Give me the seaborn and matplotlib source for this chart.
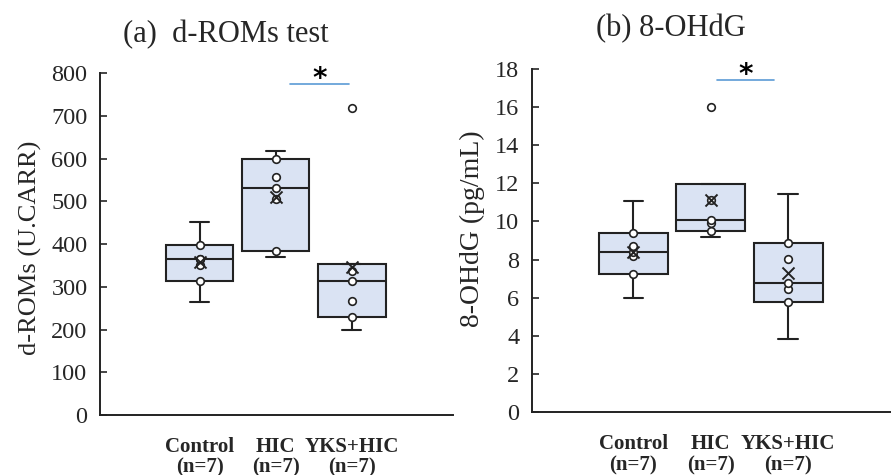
import numpy as np
import pandas as pd
import seaborn as sns
import matplotlib
matplotlib.use("Agg")
import matplotlib.pyplot as plt

# groups and raw values (n=7 each)
groups = ["Control\n(n=7)", "HIC\n(n=7)", "YKS+HIC\n(n=7)"]

droms_control = [264, 314, 352, 365, 366, 398, 451]
droms_hic = [370, 384, 505, 532, 557, 600, 617]
droms_yks = [200, 230, 266, 314, 337, 353, 717]

ohdg_control = [5.96, 7.22, 8.2, 8.41, 8.72, 9.37, 11.07]
ohdg_hic = [9.17, 9.5, 9.93, 10.07, 11.1, 11.95, 16.0]
ohdg_yks = [3.81, 5.77, 6.45, 6.78, 8.03, 8.85, 11.45]

# significance bars (HIC vs YKS+HIC)
sig_a = {"x": (1.19, 1.97), "y": 774, "star_y": 767}
sig_b = {"x": (1.08, 1.82), "y": 17.4, "star_y": 17.27}

box_fill = "#DAE3F3"
edge = "#222222"
sig_color = "#5B9BD5"

sns.set_style("ticks")
plt.rcParams["font.family"] = ["Liberation Serif", "DejaVu Serif"]


def excel_stats(vals):
    # Excel box & whisker uses exclusive quartiles, i.e. (n+1)p positions
    v = np.sort(np.asarray(vals, dtype=float))
    q1, med, q3 = np.percentile(v, [25, 50, 75], method="weibull")
    iqr = q3 - q1
    inside = v[(v >= q1 - 1.5 * iqr) & (v <= q3 + 1.5 * iqr)]
    return {
        "med": med, "q1": q1, "q3": q3,
        "whislo": inside.min(), "whishi": inside.max(),
        "fliers": v[(v < q1 - 1.5 * iqr) | (v > q3 + 1.5 * iqr)],
        "mean": v.mean(),
    }


def draw_panel(ax, data, ylim, yticks, ylabel, sig, ylabel_size):
    stats = [excel_stats(d) for d in data]
    pos = np.arange(len(data))
    ax.bxp(stats, positions=pos, widths=0.89, capwidths=0.25,
           patch_artist=True, showfliers=False, showmeans=False,
           boxprops=dict(facecolor=box_fill, edgecolor=edge, linewidth=1.5),
           medianprops=dict(color=edge, linewidth=1.5),
           whiskerprops=dict(color=edge, linewidth=1.5),
           capprops=dict(color=edge, linewidth=1.5))

    # inner points + outliers as open circles, mean as x
    rows = []
    for i, (d, s) in enumerate(zip(data, stats)):
        for v in d:
            if s["whislo"] < v < s["whishi"] or v in s["fliers"]:
                rows.append({"pos": i, "value": v})
    pts = pd.DataFrame(rows)
    means = pd.DataFrame({"pos": pos, "value": [s["mean"] for s in stats]})
    sns.scatterplot(data=pts, x="pos", y="value", ax=ax, marker="o", s=30,
                    facecolor="white", edgecolor=edge, linewidth=1.2, zorder=4)
    sns.scatterplot(data=means, x="pos", y="value", ax=ax, marker="x", s=75,
                    color=edge, linewidth=1.4, zorder=5)

    ax.plot(sig["x"], [sig["y"], sig["y"]], color=sig_color, lw=1.2, clip_on=False)
    ax.text(np.mean(sig["x"]), sig["star_y"], "*", ha="center", va="baseline",
            fontsize=20, fontweight="bold", family="DejaVu Sans", color="black")

    ax.set_xlim(-1.31, 3.33)
    ax.set_ylim(*ylim)
    ax.set_yticks(yticks)
    ax.set_xticks(pos)
    ax.set_xticklabels(groups, fontweight="bold", fontsize=15, linespacing=1.05)
    ax.set_xlabel("")
    ax.set_ylabel(ylabel, fontsize=ylabel_size)
    ax.tick_params(axis="x", length=0, pad=16)
    ax.tick_params(axis="y", direction="in", length=5, width=1.2, labelsize=17.5, pad=9)
    for sp in ["left", "bottom"]:
        ax.spines[sp].set_linewidth(1.4)
        ax.spines[sp].set_color(edge)
    sns.despine(ax=ax)


fig = plt.figure(figsize=(8.91, 4.75), dpi=100)
ax_a = fig.add_axes([0.1122, 0.1263, 0.396, 0.72])
ax_b = fig.add_axes([0.597, 0.1326, 0.403, 0.7221])

draw_panel(ax_a, [droms_control, droms_hic, droms_yks], (0, 800),
           range(0, 801, 100), "d-ROMs (U.CARR)", sig_a, 19)
draw_panel(ax_b, [ohdg_control, ohdg_hic, ohdg_yks], (0, 18),
           range(0, 19, 2), "8-OHdG (pg/mL)", sig_b, 20)
ax_a.yaxis.set_label_coords(-0.164, 0.49)
ax_b.yaxis.set_label_coords(-0.131, 0.534)

fig.text(0.2536, 0.912, "(a)  d-ROMs test", ha="center", va="baseline", fontsize=22)
fig.text(0.753, 0.924, "(b) 8-OHdG", ha="center", va="baseline", fontsize=22)

fig.savefig("out.png", dpi=100)
